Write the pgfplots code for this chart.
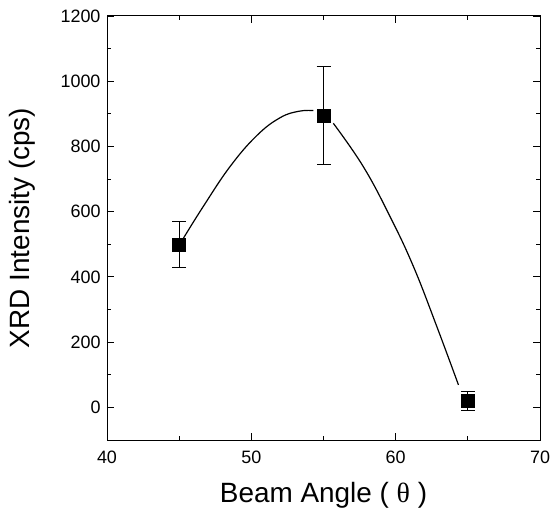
\documentclass[border=0pt]{standalone}
\usepackage{pgfplots}
\pgfplotsset{compat=1.18}
\usepackage{fontspec}
\setmainfont{Liberation Sans}
\newfontfamily\grfont{Liberation Serif}
\begin{document}
\begin{tikzpicture}
\begin{axis}[
  at={(0,0)}, anchor=south west,
  scale only axis, width=433bp, height=424bp,
  xmin=40, xmax=70, ymin=-100, ymax=1200,
  xtick={40,50,60,70}, ytick={0,200,...,1200},
  minor x tick num=1, minor y tick num=1,
  tick align=inside, major tick length=7bp, minor tick length=4bp,
  tick style={black, line width=0.9pt},
  axis line style={line width=1pt},
  ticks=both, xtick pos=both, ytick pos=both,
  tick label style={font=\fontsize{18}{18}\selectfont},
  /pgf/number format/assume math mode=true,
  /pgf/number format/1000 sep={},
  xticklabel style={yshift=-7bp},
  yticklabel style={xshift=-3bp},
  xlabel={Beam Angle ( {\grfont θ} )},
  ylabel={XRD Intensity (cps)},
  label style={font=\fontsize{28}{28}\selectfont},
  xlabel style={at={(axis description cs:0.5,0)}, anchor=center, yshift=-55bp},
  ylabel style={at={(axis description cs:0,0.5)}, anchor=center, rotate=0, yshift=85bp},
]
% fitted curve
\addplot[black, line width=1.2pt, smooth, tension=0.7] coordinates {
 (45.3,519) (46.67,616) (48.52,738) (50.37,833) (51.99,888) (53.3,908) (54.3,910)
};
\addplot[black, line width=1.2pt, smooth, tension=0.7] coordinates {
 (55.68,871) (57.76,738) (59.61,585) (61.23,432) (62.85,248) (64.35,69)
};
% data with error bars
\addplot[black, only marks, mark=square*, mark size=6.5bp,
  error bars/.cd, y dir=both, y explicit,
  error bar style={line width=1pt},
  error mark options={rotate=90, mark size=7bp, line width=1pt}]
 coordinates {
 (45,500) +- (0,70)
 (55,895) +- (0,150)
 (65,20) +- (0,30)
};
\end{axis}
\pgfresetboundingbox
\path (-107bp,-76bp) rectangle (446bp,440bp);
\end{tikzpicture}
\end{document}
